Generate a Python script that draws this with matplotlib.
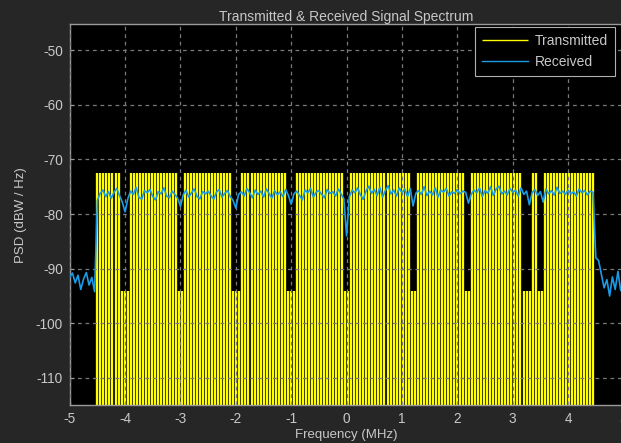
import numpy as np
import matplotlib
matplotlib.use("Agg")
import matplotlib.pyplot as plt

# --- data -------------------------------------------------------------------
# transmitted spectrum: comb of tones across the occupied band
tx_band = (-4.5, 4.45)        # MHz
tx_n_tones = 165
tx_peak = -72.5               # dBW/Hz
tx_floor = -140.0             # below the plot
null_freqs = [-4.0, -3.0, -2.0, -1.0, 0.0, 1.2, 2.2, 3.25, 3.5]
null_level = -94.0

# received PSD, read every 0.05 MHz from -5 to 5 MHz
rx_freq = np.linspace(-5.0, 5.0, 201)
rx_psd = [
    -91.5, -90.8, -92.6, -91.2, -93.8, -91.9, -90.7, -93.0, -91.6, -94.2,
    -77.5, -76.2, -75.6, -76.8, -75.9, -77.1, -76.0, -75.3, -76.6, -77.8,
    -79.6, -77.2, -75.8, -76.4, -75.1, -76.9, -77.3, -75.7, -76.1, -75.5,
    -76.8, -77.4, -75.9, -76.3, -75.2, -76.7, -77.0, -75.8, -76.4, -77.1,
    -78.6, -76.5, -75.6, -76.9, -76.1, -75.4, -76.8, -77.2, -75.9, -76.3,
    -75.8, -76.6, -77.3, -76.0, -75.5, -76.9, -76.2, -75.7, -76.8, -77.5,
    -78.9, -76.4, -75.9, -76.7, -75.3, -76.1, -77.0, -75.6, -76.4, -75.8,
    -76.9, -75.4, -76.2, -77.1, -75.7, -76.5, -75.9, -76.8, -75.5, -76.6,
    -78.2, -76.3, -75.8, -76.6, -77.4, -75.6, -76.1, -75.3, -76.9, -76.0,
    -75.7, -76.4, -77.0, -75.5, -76.2, -75.9, -76.7, -75.4, -76.3, -77.2,
    -84.0, -76.8, -75.6, -76.1, -75.2, -76.5, -77.3, -75.8, -74.9, -76.2,
    -75.5, -76.6, -75.1, -76.9, -75.7, -74.8, -76.3, -75.6, -76.7, -75.2,
    -76.1, -75.4, -76.8, -75.3, -78.5, -76.2, -75.7, -76.4, -75.0, -76.6,
    -75.8, -76.5, -75.2, -76.9, -75.6, -76.0, -75.3, -76.7, -75.9, -76.2,
    -75.5, -76.3, -75.8, -76.0, -78.0, -76.4, -75.6, -76.1, -75.2, -76.8,
    -75.7, -76.2, -75.0, -76.6, -75.4, -74.9, -76.3, -75.8, -76.5, -75.3,
    -76.0, -75.6, -76.7, -75.2, -76.4, -75.8, -78.3, -76.1, -75.5, -76.6,
    -75.9, -77.8, -75.4, -76.3, -75.7, -76.5, -75.1, -76.2, -75.8, -76.4,
    -75.6, -76.3, -75.9, -76.7, -75.4, -76.1, -75.7, -76.5, -75.8, -76.0,
    -88.0, -88.5, -91.0, -93.5, -92.0, -95.0, -91.5, -93.8, -90.5, -94.0,
    -92.2,
]

x_ticks = [-5, -4, -3, -2, -1, 0, 1, 2, 3, 4, 5]
y_ticks = [-110, -100, -90, -80, -70, -60, -50]

# --- style ------------------------------------------------------------------
fig_bg = "#262626"
fg = "#c8c8c8"
grid_col = "#7a7a7a"
plt.rcParams["font.family"] = ["Liberation Sans", "DejaVu Sans"]
plt.rcParams["font.size"] = 9.5
plt.rcParams["axes.unicode_minus"] = False

fig = plt.figure(figsize=(6.21, 4.43), dpi=100, facecolor=fig_bg)
ax = fig.add_axes([0.1122, 0.0852, 0.8918, 0.8606], facecolor="black")

# transmitted tones
tones = np.linspace(tx_band[0], tx_band[1], tx_n_tones)
tops = np.full(tones.shape, tx_peak)
step = tones[1] - tones[0]
for nf in null_freqs:
    near = np.abs(tones - nf) < 1.2 * step
    tops[near] = null_level
ax.vlines(tones, tx_floor, tops, color="#ffff00", linewidth=1.65,
          label="Transmitted", zorder=2)

# received
ax.plot(rx_freq, rx_psd, color="#1a9ce8", linewidth=1.2, label="Received",
        zorder=3)

ax.set_xlim(-5, 5)
ax.set_ylim(-115, -45.2)
ax.set_xticks(x_ticks)
ax.set_yticks(y_ticks)
ax.grid(True, color=grid_col, linestyle=(0, (3, 3)), linewidth=0.9, zorder=4)
ax.set_axisbelow(False)

for s in ax.spines.values():
    s.set_color("#9a9a9a")
    s.set_linewidth(1.0)
ax.tick_params(colors=fg, direction="in", length=3, labelsize=9.8,
               pad=5, color="#9a9a9a")

ax.set_title("Transmitted & Received Signal Spectrum", color=fg,
             fontsize=10, pad=2)
ax.set_xlabel("Frequency (MHz)", color=fg, fontsize=9.5, labelpad=2)
ax.set_ylabel("PSD (dBW / Hz)", color=fg, fontsize=9.5, labelpad=6)

leg = ax.legend(loc="upper right", bbox_to_anchor=(0.985, 0.993),
                borderaxespad=0, fancybox=False, framealpha=1,
                facecolor="black", edgecolor="#b0b0b0", fontsize=10,
                handlelength=3.3, handletextpad=0.5, labelspacing=0.55,
                borderpad=0.5)
for t in leg.get_texts():
    t.set_color(fg)
for h in leg.get_lines():
    h.set_linewidth(1.0)
leg.legend_handles[0].set_linewidth(1.0)
leg.get_frame().set_linewidth(0.8)

fig.savefig("out.png", dpi=100, facecolor=fig_bg)
